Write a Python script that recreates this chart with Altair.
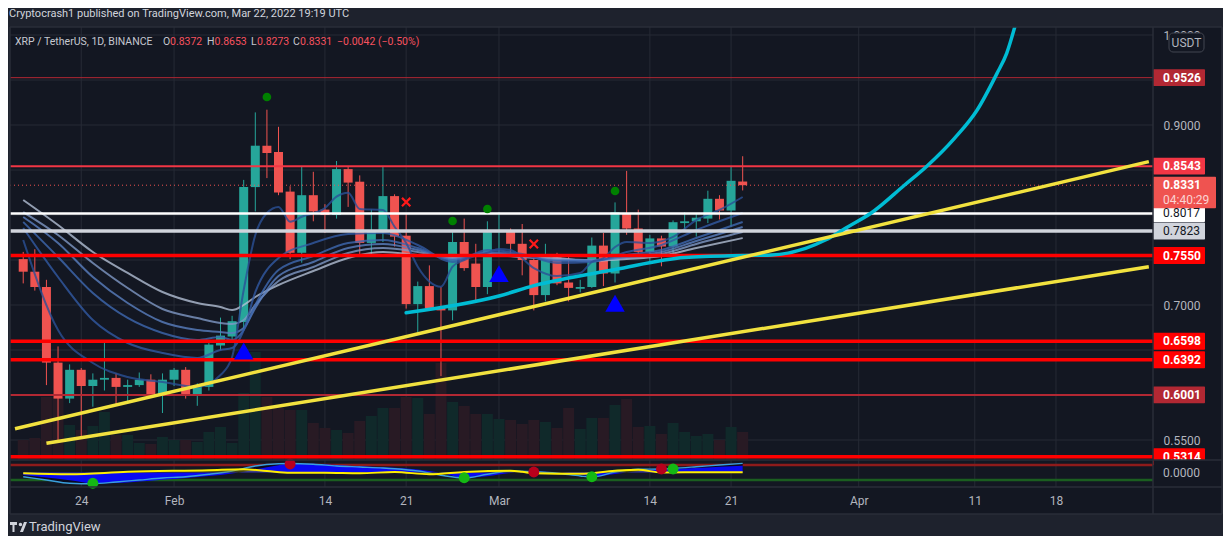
import altair as alt
import pandas as pd

# ---------------- data ----------------
START = "2022-01-19"          # first daily candle
OPEN = [0.751, 0.737, 0.720, 0.636, 0.596, 0.628, 0.610, 0.617, 0.619, 0.609,
        0.611, 0.617, 0.600, 0.617, 0.628, 0.599, 0.609, 0.655, 0.665, 0.681,
        0.831, 0.877, 0.870, 0.826, 0.758, 0.822, 0.806, 0.800, 0.851, 0.837,
        0.769, 0.783, 0.821, 0.777, 0.701, 0.721, 0.697, 0.694, 0.770, 0.746,
        0.720, 0.781, 0.783, 0.768, 0.750, 0.711, 0.753, 0.725, 0.718, 0.720,
        0.766, 0.735, 0.802, 0.785, 0.759, 0.774, 0.765, 0.791, 0.793, 0.796,
        0.818, 0.805, 0.8372]
HIGH = [0.759, 0.762, 0.728, 0.654, 0.634, 0.630, 0.624, 0.659, 0.624, 0.617,
        0.625, 0.623, 0.624, 0.630, 0.631, 0.613, 0.659, 0.686, 0.688, 0.839,
        0.914, 0.917, 0.898, 0.832, 0.854, 0.848, 0.812, 0.860, 0.854, 0.844,
        0.806, 0.854, 0.823, 0.802, 0.726, 0.744, 0.720, 0.781, 0.796, 0.768,
        0.793, 0.803, 0.785, 0.790, 0.754, 0.768, 0.758, 0.754, 0.728, 0.775,
        0.780, 0.814, 0.849, 0.806, 0.778, 0.777, 0.794, 0.803, 0.802, 0.827,
        0.822, 0.854, 0.8653]
LOW = [0.724, 0.716, 0.611, 0.550, 0.591, 0.553, 0.587, 0.605, 0.590, 0.591,
       0.609, 0.597, 0.580, 0.610, 0.596, 0.588, 0.605, 0.650, 0.661, 0.672,
       0.804, 0.841, 0.822, 0.751, 0.747, 0.793, 0.780, 0.796, 0.809, 0.755,
       0.757, 0.770, 0.765, 0.696, 0.670, 0.694, 0.621, 0.683, 0.738, 0.704,
       0.712, 0.757, 0.757, 0.733, 0.694, 0.704, 0.722, 0.704, 0.714, 0.719,
       0.721, 0.725, 0.778, 0.757, 0.746, 0.743, 0.757, 0.783, 0.776, 0.791,
       0.795, 0.787, 0.8273]
CLOSE = [0.737, 0.720, 0.636, 0.596, 0.628, 0.610, 0.617, 0.619, 0.609, 0.611,
         0.617, 0.600, 0.617, 0.628, 0.599, 0.610, 0.656, 0.666, 0.682, 0.831,
         0.877, 0.869, 0.825, 0.758, 0.822, 0.804, 0.800, 0.851, 0.836, 0.769,
         0.783, 0.821, 0.776, 0.701, 0.721, 0.696, 0.694, 0.770, 0.741, 0.720,
         0.781, 0.783, 0.768, 0.750, 0.711, 0.753, 0.724, 0.719, 0.720, 0.766,
         0.735, 0.803, 0.785, 0.759, 0.774, 0.765, 0.792, 0.793, 0.797, 0.818,
         0.805, 0.838, 0.8331]
VOLUME = [200, 220, 630, 630, 350, 300, 340, 480, 250, 250,
          170, 160, 230, 200, 200, 180, 280, 330, 170, 670,
          1080, 630, 520, 500, 500, 370, 320, 300, 270, 390,
          440, 520, 520, 630, 620, 460, 970, 580, 540, 460,
          460, 410, 400, 360, 400, 380, 320, 520, 310, 420,
          420, 550, 610, 330, 340, 260, 370, 280, 240, 260,
          200, 330, 280]

# moving-average ribbon (slow lines)
RIB_DATES = ["2022-01-19", "2022-01-22", "2022-01-25", "2022-01-28", "2022-01-31",
             "2022-02-03", "2022-02-05", "2022-02-06", "2022-02-07", "2022-02-08",
             "2022-02-10", "2022-02-13", "2022-02-16", "2022-02-19", "2022-02-22",
             "2022-02-25", "2022-02-28", "2022-03-03", "2022-03-06", "2022-03-09",
             "2022-03-12", "2022-03-15", "2022-03-18", "2022-03-22"]
RIB_S1 = [0.7856, 0.7311, 0.6833, 0.6578, 0.6467, 0.6411, 0.6500, 0.6522, 0.6722, 0.7144,
          0.7522, 0.7689, 0.7789, 0.7800, 0.7667, 0.7478, 0.7611, 0.7567, 0.7467, 0.7478,
          0.7589, 0.7667, 0.7833, 0.8022]
RIB_S2 = [0.7922, 0.7533, 0.7133, 0.6856, 0.6689, 0.6611, 0.6644, 0.6611, 0.6722, 0.7000,
          0.7389, 0.7544, 0.7689, 0.7722, 0.7633, 0.7500, 0.7589, 0.7556, 0.7489, 0.7489,
          0.7556, 0.7611, 0.7744, 0.7922]
RIB_S3 = [0.7978, 0.7689, 0.7311, 0.7022, 0.6811, 0.6722, 0.6700, 0.6689, 0.6744, 0.6967,
          0.7322, 0.7478, 0.7633, 0.7678, 0.7611, 0.7511, 0.7578, 0.7544, 0.7500, 0.7500,
          0.7533, 0.7589, 0.7711, 0.7867]
RIB_S4 = [0.8033, 0.7778, 0.7467, 0.7189, 0.6956, 0.6856, 0.6800, 0.6789, 0.6833, 0.7000,
          0.7267, 0.7422, 0.7578, 0.7633, 0.7589, 0.7522, 0.7567, 0.7533, 0.7511, 0.7500,
          0.7522, 0.7567, 0.7678, 0.7811]
RIB_S5 = [0.8167, 0.7889, 0.7589, 0.7356, 0.7144, 0.7022, 0.6978, 0.6944, 0.7000, 0.7089,
          0.7222, 0.7378, 0.7522, 0.7589, 0.7556, 0.7533, 0.7556, 0.7533, 0.7522, 0.7489,
          0.7511, 0.7544, 0.7633, 0.7744]
# fast ribbon line
FAST_DATES = ["2022-01-19", "2022-01-22", "2022-01-25", "2022-01-28", "2022-01-31",
              "2022-02-03", "2022-02-05", "2022-02-06", "2022-02-07", "2022-02-08",
              "2022-02-09", "2022-02-10", "2022-02-11", "2022-02-12", "2022-02-14",
              "2022-02-15", "2022-02-16", "2022-02-17", "2022-02-19", "2022-02-20",
              "2022-02-21", "2022-02-22", "2022-02-24", "2022-02-25", "2022-02-26",
              "2022-02-28", "2022-03-01", "2022-03-02", "2022-03-04", "2022-03-06",
              "2022-03-08", "2022-03-09", "2022-03-10", "2022-03-11", "2022-03-12",
              "2022-03-14", "2022-03-16", "2022-03-18", "2022-03-20", "2022-03-22"]
FAST = [0.7722, 0.6722, 0.6356, 0.6200, 0.6144, 0.6089, 0.6222, 0.6422, 0.7167, 0.7778,
        0.8022, 0.8090, 0.7926, 0.7980, 0.8078, 0.8204, 0.8248, 0.8067, 0.8056, 0.7870,
        0.7689, 0.7426, 0.7204, 0.7426, 0.7500, 0.7580, 0.7622, 0.7611, 0.7411, 0.7322,
        0.7356, 0.7478, 0.7522, 0.7644, 0.7700, 0.7689, 0.7756, 0.7944, 0.8056, 0.8200]

# cyan projection curve
CYAN_T = ["2022-02-21", "2022-03-01", "2022-03-04", "2022-03-11", "2022-03-17", "2022-03-22",
          "2022-03-24T12:00:00Z", "2022-03-27T10:00:00Z", "2022-03-29T03:00:00Z",
          "2022-03-31T02:00:00Z", "2022-04-02T01:00:00Z", "2022-04-04T23:00:00Z",
          "2022-04-06T22:00:00Z", "2022-04-09T06:00:00Z", "2022-04-11T05:00:00Z",
          "2022-04-12T22:00:00Z", "2022-04-13T18:00:00Z", "2022-04-14T11:00:00Z"]
CYAN_P = [0.6914, 0.7100, 0.7215, 0.7394, 0.7528, 0.7550, 0.7556, 0.7630, 0.7722,
          0.7870, 0.8019, 0.8333, 0.8548, 0.8852, 0.9167, 0.9574, 0.9796, 1.0093]

# yellow trend lines
TREND_NAME = ["upper", "upper", "lower", "lower"]
TREND_T = ["2022-01-18T07:00:00Z", "2022-04-26", "2022-01-21", "2022-04-26"]
TREND_P = [0.5625, 0.8593, 0.5463, 0.7426]

# horizontal levels
LEVEL_P = [0.9526, 0.8543, 0.8017, 0.7823, 0.7550, 0.6598, 0.6392, 0.6001, 0.5314]
LAST_PRICE = 0.8331
COUNTDOWN = "04:40:29"

# grid / tick positions
PRICE_TICKS = [0.55, 0.6, 0.65, 0.7, 0.75, 0.8, 0.85, 0.9, 0.95, 1.0]
PRICE_LABELS = [0.55, 0.7, 0.9, 1.0]          # the others are hidden under price tags
DATE_TICKS = ["2022-01-24", "2022-02-01", "2022-02-14", "2022-02-21", "2022-03-01",
              "2022-03-14", "2022-03-21", "2022-04-01", "2022-04-11", "2022-04-18"]

# signal markers on price
GDOT_T = ["2022-02-09", "2022-02-25", "2022-02-28", "2022-03-11"]
GDOT_P = [0.9311, 0.7933, 0.8067, 0.8267]
RX_T = ["2022-02-21", "2022-03-04"]
RX_P = [0.8144, 0.7678]
TRI_T = ["2022-02-07", "2022-03-01", "2022-03-11"]
TRI_P = [0.6489, 0.7348, 0.7019]

# oscillator pane
IND_T = ["2022-01-19", "2022-01-21", "2022-01-23", "2022-01-25", "2022-01-27", "2022-01-29",
         "2022-01-31", "2022-02-02", "2022-02-04", "2022-02-06", "2022-02-08", "2022-02-10",
         "2022-02-11", "2022-02-13", "2022-02-15", "2022-02-17", "2022-02-19", "2022-02-20",
         "2022-02-22", "2022-02-24", "2022-02-26", "2022-02-28", "2022-03-02", "2022-03-04",
         "2022-03-06", "2022-03-08", "2022-03-09", "2022-03-11", "2022-03-13", "2022-03-15",
         "2022-03-16", "2022-03-18", "2022-03-20", "2022-03-22"]
WT1 = [-34, -60, -86, -90, -76, -60, -44, -34, -14, 12, 52, 70, 72, 66, 52, 44, 36, 30,
       12, -22, -44, -14, 12, 6, -6, -28, -36, 4, 26, 28, 33, 46, 60, 73]
WT2 = [-20, -40, -62, -86, -84, -72, -58, -44, -28, -8, 25, 58, 70, 70, 60, 50, 42, 38,
       24, -2, -42, -30, -4, 6, 2, -16, -34, -12, 10, 30, 30, 36, 46, 55]
YEL_T = ["2022-01-19", "2022-01-23", "2022-01-28", "2022-02-04", "2022-02-07", "2022-02-09",
         "2022-02-11", "2022-02-14", "2022-02-17", "2022-02-20", "2022-02-23", "2022-02-26",
         "2022-03-02", "2022-03-03", "2022-03-04", "2022-03-08", "2022-03-11", "2022-03-13",
         "2022-03-15", "2022-03-19", "2022-03-22"]
YEL_V = [-6, -14, 6, 18, 26, 12, -2, -2, -6, 4, -14, 4, 14, 6, -6, -10, 14, 22, 0, 2, 2]
IG_T = ["2022-01-25", "2022-02-26", "2022-03-09", "2022-03-16"]
IG_V = [-86, -42, -34, 28]
IR_T = ["2022-02-11", "2022-03-04", "2022-03-15"]
IR_V = [68, 4, 28]
IND_LEVELS = [60, -60]

# ---------------- styling ----------------
BG = "#1e222d"
PANE = "#131722"
GRID = "#262a35"
BORDER = "#2a2e39"
AXT = "#b2b5be"
UP, DOWN = "#26a69a", "#ef5350"
UI = "Roboto, Liberation Sans, sans-serif"
W, H = 1143, 460          # plot area (price + oscillator panes)
VW, VH = 1212, 487        # whole dark frame incl. price scale and date band
PANE_Y = 433              # price/oscillator separator (view px)

LEVEL_COLOR = {0.9526: "#b22833", 0.8543: "#f23645", 0.8017: "#ffffff", 0.7823: "#d1d4dc",
               0.7550: "#ff0000", 0.6598: "#ff0000", 0.6392: "#ff0000", 0.6001: "#b22833",
               0.5314: "#ff0000"}
LEVEL_WIDTH = {0.9526: 1, 0.8543: 2, 0.8017: 2.5, 0.7823: 3.5, 0.7550: 3.5, 0.6598: 3.5,
               0.6392: 3.5, 0.6001: 2, 0.5314: 3.5}
DARK_TEXT = {0.8017, 0.7823}

XS = alt.Scale(type="utc", domain=[
    alt.DateTime(year=2022, month=1, date=18, hours=7, utc=True),
    alt.DateTime(year=2022, month=5, date=1, hours=21, utc=True)])
XA = alt.Axis(
    values=[alt.DateTime(year=int(d[:4]), month=int(d[5:7]), date=int(d[8:10]), utc=True)
            for d in DATE_TICKS],
    labelExpr="utcdate(datum.value) == 1 ? utcFormat(datum.value, '%b') : '' + utcdate(datum.value)",
    grid=False, domain=False, ticks=False, labelPadding=8, offset=-(VH - H),
    labelColor=AXT, labelFont=UI, labelFontSize=12, labelFlush=False,
    labelOverlap=False, title=None)
YP = alt.Scale(domain=[0.46778, 1.00889], nice=False, zero=False)
YV = alt.Scale(domain=[-540, 4330], nice=False, zero=False)
YI = alt.Scale(domain=[-332, 3564], nice=False, zero=False)
YPA = alt.Axis(orient="right", values=PRICE_LABELS, offset=-(VW - W),
               format=".4f", grid=False, domain=False, ticks=False,
               labelPadding=10, labelColor=AXT, labelFont=UI, labelFontSize=12,
               labelOverlap=False, labelBound=False, title=None)


def X(field="t"):
    return alt.X(field, type="temporal", scale=XS, axis=XA)


def YPr(field="p", axis=None):
    return alt.Y(field, type="quantitative", scale=YP, axis=axis)


ONE = pd.DataFrame({"k": [0]})


def box(x, x2, y, y2, **kw):
    return alt.Chart(ONE).mark_rect(**kw).encode(
        x=alt.value(x), x2=alt.value(x2), y=alt.value(y), y2=alt.value(y2))


def rule(x, y, x2=None, y2=None, **kw):
    enc = dict(x=alt.value(x), y=alt.value(y))
    if x2 is not None:
        enc["x2"] = alt.value(x2)
    if y2 is not None:
        enc["y2"] = alt.value(y2)
    return alt.Chart(ONE).mark_rule(**kw).encode(**enc)


# ---------------- tables ----------------
dates = pd.date_range(START, periods=len(OPEN), freq="D").strftime("%Y-%m-%d")
candles = pd.DataFrame({"t": dates, "o": OPEN, "h": HIGH, "l": LOW, "c": CLOSE, "v": VOLUME})
candles["col"] = [UP if c >= o else DOWN for o, c in zip(OPEN, CLOSE)]
candles["vcol"] = ["#10292a" if c >= o else "#281a24" for o, c in zip(OPEN, CLOSE)]

rib = pd.concat([pd.DataFrame({"t": RIB_DATES, "p": vals, "line": name})
                 for name, vals in [("S5", RIB_S5), ("S4", RIB_S4), ("S3", RIB_S3),
                                    ("S2", RIB_S2), ("S1", RIB_S1)]]
                + [pd.DataFrame({"t": FAST_DATES, "p": FAST, "line": "F"})])
cyan = pd.DataFrame({"t": CYAN_T, "p": CYAN_P})
trend = pd.DataFrame({"t": TREND_T, "p": TREND_P, "name": TREND_NAME})
levels = pd.DataFrame({"p": LEVEL_P})
levels["col"] = levels["p"].map(LEVEL_COLOR)
levels["w"] = levels["p"].map(LEVEL_WIDTH)
levels["txt"] = levels["p"].map(lambda v: f"{v:.4f}")
levels["tcol"] = levels["p"].map(lambda v: "#131722" if v in DARK_TEXT else "#ffffff")
levels["dark"] = levels["p"].map(lambda v: v in DARK_TEXT)
last = pd.DataFrame({"p": [LAST_PRICE], "txt": [f"{LAST_PRICE:.4f}"], "cd": [COUNTDOWN]})
gdot = pd.DataFrame({"t": GDOT_T, "p": GDOT_P})
rx = pd.DataFrame({"t": RX_T, "p": RX_P})
tri = pd.DataFrame({"t": TRI_T, "p": TRI_P})
ind = pd.DataFrame({"t": IND_T, "wt1": WT1, "wt2": WT2})
yel = pd.DataFrame({"t": YEL_T, "v": YEL_V})
ig = pd.DataFrame({"t": IG_T, "v": IG_V})
ir = pd.DataFrame({"t": IR_T, "v": IR_V})
ilev = pd.DataFrame({"v": IND_LEVELS, "col": ["#8e1b1b", "#1b5e20"]})
pgrid = pd.DataFrame({"p": PRICE_TICKS})
tgrid = pd.DataFrame({"t": DATE_TICKS})

layers = []

# grid
layers.append(alt.Chart(pgrid).mark_rule(color=GRID, strokeWidth=1).encode(
    y=YPr("p"), x=alt.value(0), x2=alt.value(W)))
layers.append(alt.Chart(tgrid).mark_rule(color=GRID, strokeWidth=1).encode(
    x=X(), y=alt.value(0), y2=alt.value(H)))

# volume
layers.append(alt.Chart(candles).mark_bar(size=11).encode(
    x=X(), y=alt.Y("v:Q", scale=YV, axis=None), y2=alt.datum(0),
    color=alt.Color("vcol:N", scale=None)))

# candles
layers.append(alt.Chart(candles).mark_rule(strokeWidth=1).encode(
    x=X(), y=YPr("l", axis=YPA), y2="h:Q", color=alt.Color("col:N", scale=None)))
layers.append(alt.Chart(candles).mark_bar(size=9).encode(
    x=X(), y=YPr("o"), y2="c:Q", color=alt.Color("col:N", scale=None)))

# ribbon
layers.append(alt.Chart(rib).mark_line(strokeWidth=2, opacity=0.8, interpolate="monotone").encode(
    x=X(), y=YPr("p"),
    color=alt.Color("line:N", legend=None, scale=alt.Scale(
        domain=["F", "S1", "S2", "S3", "S4", "S5"],
        range=["#2a5096", "#325aa4", "#3f69b2", "#5a80c0", "#8099c6", "#b3bfd4"]))))

# level lines
layers.append(alt.Chart(levels).mark_rule().encode(
    y=YPr("p"), x=alt.value(0), x2=alt.value(W), color=alt.Color("col:N", scale=None),
    strokeWidth=alt.StrokeWidth("w:Q", scale=None)))
layers.append(alt.Chart(last).mark_rule(color=DOWN, strokeWidth=1, strokeDash=[1, 3]).encode(
    y=YPr("p"), x=alt.value(0), x2=alt.value(W)))

# cyan curve and yellow trend lines
layers.append(alt.Chart(cyan).mark_line(color="#00bcd4", strokeWidth=3.5, interpolate="monotone",
                                        clip=True, strokeCap="round").encode(x=X(), y=YPr("p")))
layers.append(alt.Chart(trend).mark_line(color="#f2e23f", strokeWidth=3.5).encode(
    x=X(), y=YPr("p"), detail="name:N"))

# signal markers
layers.append(alt.Chart(gdot).mark_circle(size=75, color="#008000", opacity=1).encode(
    x=X(), y=YPr("p")))
layers.append(alt.Chart(rx).mark_point(shape="M-1,-1L1,1M-1,1L1,-1", filled=False, size=70,
                                       strokeWidth=2.2, color="#ff1a1a", opacity=1).encode(
    x=X(), y=YPr("p")))
layers.append(alt.Chart(tri).mark_point(shape="triangle-up", filled=True, size=380,
                                        color="#0000ff", opacity=1).encode(x=X(), y=YPr("p")))

# oscillator pane
layers.append(alt.Chart(ilev).mark_rule(strokeWidth=2.5).encode(
    y=alt.Y("v:Q", scale=YI, axis=None), x=alt.value(0), x2=alt.value(W),
    color=alt.Color("col:N", scale=None)))
layers.append(alt.Chart(ind).mark_area(color="#080822", opacity=0.95, interpolate="monotone").encode(
    x=X(), y=alt.Y("wt1:Q", scale=YI, axis=None), y2=alt.datum(0)))
layers.append(alt.Chart(ind).mark_area(color="#0a0aff", opacity=0.95, interpolate="monotone").encode(
    x=X(), y=alt.Y("wt2:Q", scale=YI, axis=None), y2=alt.datum(0)))
layers.append(alt.Chart(ind).mark_line(color="#3aa0dc", strokeWidth=1.3, interpolate="monotone").encode(
    x=X(), y=alt.Y("wt1:Q", scale=YI, axis=None)))
layers.append(alt.Chart(yel).mark_area(color="#8a8a10", opacity=0.45, interpolate="monotone").encode(
    x=X(), y=alt.Y("v:Q", scale=YI, axis=None), y2=alt.datum(0)))
layers.append(alt.Chart(yel).mark_line(color="#ffee00", strokeWidth=2, interpolate="monotone").encode(
    x=X(), y=alt.Y("v:Q", scale=YI, axis=None)))
layers.append(alt.Chart(ig).mark_circle(size=120, color="#14b814", opacity=1).encode(
    x=X(), y=alt.Y("v:Q", scale=YI, axis=None)))
layers.append(alt.Chart(ir).mark_circle(size=120, color="#b8001c", opacity=1).encode(
    x=X(), y=alt.Y("v:Q", scale=YI, axis=None)))

# price tags on the axis
box_h = 0.0094
layers.append(alt.Chart(levels).transform_calculate(
    top=f"datum.p + {box_h}", bot=f"datum.p - {box_h}").mark_rect(cornerRadius=1).encode(
    x=alt.value(W), x2=alt.value(W + 52), y=YPr("top:Q"), y2="bot:Q",
    color=alt.Color("col:N", scale=None)))
layers.append(alt.Chart(last).transform_calculate(
    top=f"datum.p + {box_h}", bot=f"datum.p - 0.0256").mark_rect(color=DOWN, cornerRadius=1).encode(
    x=alt.value(W), x2=alt.value(W + 63), y=YPr("top:Q"), y2="bot:Q"))
layers.append(alt.Chart(levels).transform_filter("!datum.dark").mark_text(
    align="left", baseline="middle", font=UI, fontSize=12, fontWeight="bold").encode(
    x=alt.value(W + 10), y=YPr("p"), text="txt:N", color=alt.Color("tcol:N", scale=None)))
layers.append(alt.Chart(levels).transform_filter("datum.dark").mark_text(
    align="left", baseline="middle", font=UI, fontSize=12).encode(
    x=alt.value(W + 10), y=YPr("p"), text="txt:N", color=alt.Color("tcol:N", scale=None)))
layers.append(alt.Chart(last).mark_text(align="left", baseline="middle", font=UI, fontSize=12,
                                        fontWeight="bold", color="#ffffff").encode(
    x=alt.value(W + 10), y=YPr("p"), text="txt:N"))
layers.append(alt.Chart(last).mark_text(align="left", baseline="middle", font=UI, fontSize=12,
                                        dy=15, color="#fbd3d3").encode(
    x=alt.value(W + 10), y=YPr("p"), text="cd:N"))

# oscillator price-scale area, separators and its zero label
layers.append(box(W + 1, VW - 0.5, PANE_Y, H, fill=PANE))
layers.append(alt.Chart(pd.DataFrame({"v": [0]})).mark_text(
    align="left", baseline="middle", font=UI, fontSize=12, color=AXT).encode(
    x=alt.value(W + 10), y=alt.Y("v:Q", scale=YI, axis=None), text=alt.value("0.0000")))
for yy in (0, PANE_Y, H, VH):
    layers.append(rule(0, yy, x2=VW, color=BORDER, strokeWidth=1.5))
for xx in (0, W, VW):
    layers.append(rule(xx, 0, y2=VH, color=BORDER, strokeWidth=1.5))

# currency badge
layers.append(box(W + 16, W + 51, 6, 25, fill=PANE, stroke="#434651", strokeWidth=1, cornerRadius=4))
layers.append(alt.Chart(ONE).mark_text(font=UI, fontSize=12, color=AXT).encode(
    x=alt.value(W + 33.5), y=alt.value(16), text=alt.value("USDT")))

# header and legend texts
layers.append(alt.Chart(ONE).mark_text(align="left", baseline="middle", font=UI, fontSize=11,
                                       color="#d1d4dc").encode(
    x=alt.value(-1), y=alt.value(-13),
    text=alt.value("Cryptocrash1 published on TradingView.com, Mar 22, 2022 19:19 UTC")))
RED_T = "#f7525f"
GREY_T = "#c5c8d0"
legend_parts = [("XRP / TetherUS, 1D, BINANCE", GREY_T, 5), ("O", GREY_T, 153),
                ("0.8372", RED_T, 160), ("H", GREY_T, 197), ("0.8653", RED_T, 204.5),
                ("L", GREY_T, 241), ("0.8273", RED_T, 247), ("C", GREY_T, 283),
                ("0.8331", RED_T, 290), ("\u22120.0042 (\u22120.50%)", RED_T, 327)]
for txt, col, xx in legend_parts:
    layers.append(alt.Chart(ONE).mark_text(align="left", baseline="middle", font=UI,
                                           fontSize=10.5, color=col).encode(
        x=alt.value(xx), y=alt.value(15), text=alt.value(txt)))

# footer logo
layers.append(alt.Chart(ONE).mark_point(
    shape="M-1,-0.59H-0.18V-0.24H-0.47V0.59H-0.71V-0.24H-1Z"
          "M0.176,0.59L0.647,-0.59H1L0.53,0.59Z"
          "M0.03,-0.3a0.2,0.2 0 1,0 0.4,0a0.2,0.2 0 1,0 -0.4,0Z",
    filled=True, size=289, color="#d1d4dc", opacity=1, strokeWidth=0).encode(
    x=alt.value(8.5), y=alt.value(VH + 13)))
layers.append(alt.Chart(ONE).mark_text(align="left", baseline="middle", font=UI, fontSize=13,
                                       color="#d1d4dc").encode(
    x=alt.value(19), y=alt.value(VH + 13), text=alt.value("TradingView")))

chart = alt.layer(*layers).resolve_scale(y="independent").properties(
    width=VW, height=VH,
    padding={"left": 2, "top": 19, "right": 1, "bottom": 22},
    autosize=alt.AutoSizeParams(type="none"),
).configure(background=BG).configure_view(fill=PANE, stroke=None)

chart.save("out.html", embed_options={"renderer": "svg", "actions": False})
